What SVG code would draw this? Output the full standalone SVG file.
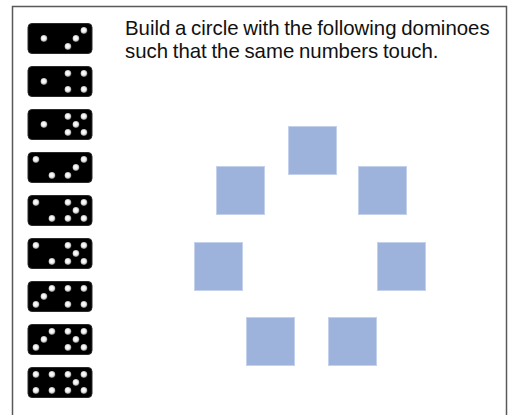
<svg xmlns="http://www.w3.org/2000/svg" xmlns:xlink="http://www.w3.org/1999/xlink" width="509" height="415" viewBox="0 0 509 415">
<style>
.frame{fill:#fff;stroke:#595959;stroke-width:1.5}
.dom{fill:#000;stroke:#2a2a2a;stroke-width:1}
.sq{fill:#9db3db;stroke:#c3d1ec;stroke-width:1}
.txt{font-family:"Liberation Sans",Arial,sans-serif;font-size:20.4px;word-spacing:-1px;fill:#111}
</style>
<defs>
<radialGradient id="g" cx="0.45" cy="0.45" r="0.55">
<stop offset="0" stop-color="#fff"/>
<stop offset="0.5" stop-color="#f2f2f2"/>
<stop offset="0.8" stop-color="#bdbdbd"/>
<stop offset="1" stop-color="#555"/>
</radialGradient>
<circle id="p" r="3.4" fill="url(#g)"/>
</defs>
<rect class="frame" x="12.5" y="6.5" width="494" height="430"/>
<g id="title">
<text class="txt" x="125" y="35">Build a circle with the following dominoes</text>
<text class="txt" x="125" y="57.5">such that the same numbers touch.</text>
</g>
<g id="domino1" transform="translate(28,23.5)"><rect class="dom" width="64" height="30" rx="4"/>
<use xlink:href="#p" x="16" y="15"/>
<use xlink:href="#p" x="40" y="23"/><use xlink:href="#p" x="48" y="15"/><use xlink:href="#p" x="56" y="7"/></g>
<g id="domino2" transform="translate(28,66.5)"><rect class="dom" width="64" height="30" rx="4"/>
<use xlink:href="#p" x="16" y="15"/>
<use xlink:href="#p" x="40" y="7"/><use xlink:href="#p" x="56" y="7"/><use xlink:href="#p" x="40" y="23"/><use xlink:href="#p" x="56" y="23"/></g>
<g id="domino3" transform="translate(28,109.5)"><rect class="dom" width="64" height="30" rx="4"/>
<use xlink:href="#p" x="16" y="15"/>
<use xlink:href="#p" x="40" y="7"/><use xlink:href="#p" x="56" y="7"/><use xlink:href="#p" x="48" y="15"/><use xlink:href="#p" x="40" y="23"/><use xlink:href="#p" x="56" y="23"/></g>
<g id="domino4" transform="translate(28,152.5)"><rect class="dom" width="64" height="30" rx="4"/>
<use xlink:href="#p" x="8" y="7"/><use xlink:href="#p" x="24" y="23"/>
<use xlink:href="#p" x="40" y="23"/><use xlink:href="#p" x="48" y="15"/><use xlink:href="#p" x="56" y="7"/></g>
<g id="domino5" transform="translate(28,195.5)"><rect class="dom" width="64" height="30" rx="4"/>
<use xlink:href="#p" x="8" y="7"/><use xlink:href="#p" x="24" y="23"/>
<use xlink:href="#p" x="40" y="7"/><use xlink:href="#p" x="56" y="7"/><use xlink:href="#p" x="48" y="15"/><use xlink:href="#p" x="40" y="23"/><use xlink:href="#p" x="56" y="23"/></g>
<g id="domino6" transform="translate(28,238.5)"><rect class="dom" width="64" height="30" rx="4"/>
<use xlink:href="#p" x="8" y="7"/><use xlink:href="#p" x="24" y="23"/>
<use xlink:href="#p" x="40" y="7"/><use xlink:href="#p" x="56" y="7"/><use xlink:href="#p" x="48" y="15"/><use xlink:href="#p" x="40" y="23"/><use xlink:href="#p" x="56" y="23"/></g>
<g id="domino7" transform="translate(28,281.5)"><rect class="dom" width="64" height="30" rx="4"/>
<use xlink:href="#p" x="8" y="23"/><use xlink:href="#p" x="16" y="15"/><use xlink:href="#p" x="24" y="7"/>
<use xlink:href="#p" x="40" y="7"/><use xlink:href="#p" x="56" y="7"/><use xlink:href="#p" x="40" y="23"/><use xlink:href="#p" x="56" y="23"/></g>
<g id="domino8" transform="translate(28,324.5)"><rect class="dom" width="64" height="30" rx="4"/>
<use xlink:href="#p" x="8" y="23"/><use xlink:href="#p" x="16" y="15"/><use xlink:href="#p" x="24" y="7"/>
<use xlink:href="#p" x="40" y="7"/><use xlink:href="#p" x="56" y="7"/><use xlink:href="#p" x="48" y="15"/><use xlink:href="#p" x="40" y="23"/><use xlink:href="#p" x="56" y="23"/></g>
<g id="domino9" transform="translate(28,367.5)"><rect class="dom" width="64" height="30" rx="4"/>
<use xlink:href="#p" x="8" y="7"/><use xlink:href="#p" x="24" y="7"/><use xlink:href="#p" x="8" y="23"/><use xlink:href="#p" x="24" y="23"/>
<use xlink:href="#p" x="40" y="7"/><use xlink:href="#p" x="56" y="7"/><use xlink:href="#p" x="48" y="15"/><use xlink:href="#p" x="40" y="23"/><use xlink:href="#p" x="56" y="23"/></g>
<g id="slot1"><rect class="sq" x="288.5" y="126.5" width="48" height="48"/></g>
<g id="slot2"><rect class="sq" x="216.5" y="166.5" width="48" height="48"/></g>
<g id="slot3"><rect class="sq" x="358.5" y="166.5" width="48" height="48"/></g>
<g id="slot4"><rect class="sq" x="194.5" y="242.5" width="48" height="48"/></g>
<g id="slot5"><rect class="sq" x="377.5" y="242.5" width="48" height="48"/></g>
<g id="slot6"><rect class="sq" x="246.5" y="317.5" width="48" height="48"/></g>
<g id="slot7"><rect class="sq" x="328.5" y="317.5" width="48" height="48"/></g>
<g id="connectors"/>
</svg>
